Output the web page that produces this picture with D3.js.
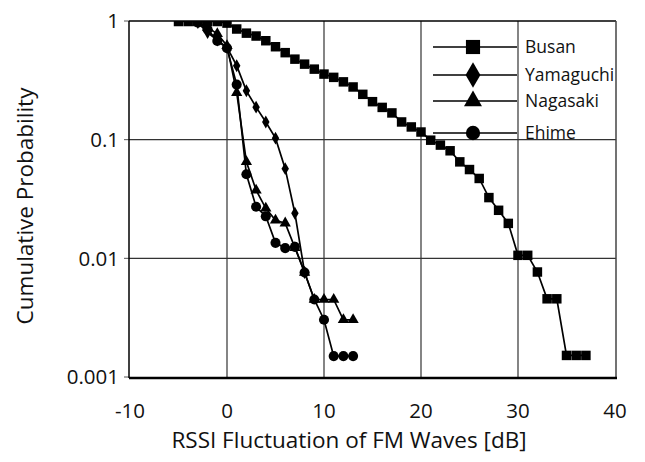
<!DOCTYPE html>
<html lang="en">
<head>
  <meta charset="UTF-8">
  <title>RSSI Fluctuation CDF</title>
  <script src="https://d3js.org/d3.v7.min.js"></script>
  <style>
    html, body { margin: 0; padding: 0; background: #fff; overflow: hidden; }
    svg { font-family: "Open Sans", sans-serif; }
  </style>
</head>
<body>
<div id="chart"></div>
<script>
  // Values
  const busanX = [-5, -4, -3, -2, -1, 0, 1, 2, 3, 4, 5, 6, 7, 8, 9, 10, 11, 12, 13, 14, 15, 16, 17, 18,
    19, 20, 21, 22, 23, 24, 25, 26, 27, 28, 29, 30, 31, 32, 33, 34, 35, 36, 37];
  const busanP = [0.99, 0.99, 0.99, 0.99, 0.99, 0.96, 0.856, 0.79, 0.747, 0.682, 0.607, 0.541, 0.477, 0.433,
    0.393, 0.357, 0.335, 0.307, 0.278, 0.241, 0.209, 0.187, 0.168, 0.141, 0.128, 0.116, 0.099, 0.090,
    0.0806, 0.065, 0.056, 0.0471, 0.0325, 0.0254, 0.0197, 0.0106, 0.0106, 0.00767, 0.00456, 0.00456,
    0.00152, 0.00152, 0.00152];

  const yamaguchiX = [-3, -2, -1, 0, 1, 2, 3, 4, 5, 6, 7, 8];
  const yamaguchiP = [0.97, 0.8, 0.69, 0.6, 0.42, 0.258, 0.188, 0.141, 0.103, 0.057, 0.024, 0.0076];

  const nagasakiX = [-3, -2, -1, 0, 1, 2, 3, 4, 5, 6, 7, 8, 9, 10, 11, 12, 13];
  const nagasakiP = [0.97, 0.88, 0.78, 0.62, 0.249, 0.065, 0.0375, 0.0264, 0.0209, 0.0198, 0.0123, 0.0076,
    0.0045, 0.0045, 0.0045, 0.00303, 0.00303];

  const ehimeX = [-3, -2, -1, 0, 1, 2, 3, 4, 5, 6, 7, 8, 9, 10, 11, 12, 13];
  const ehimeP = [0.97, 0.85, 0.68, 0.59, 0.291, 0.0511, 0.0272, 0.0226, 0.0135, 0.0122, 0.0125, 0.0076,
    0.0045, 0.00304, 0.0015, 0.0015, 0.0015];

  const seriesNames = ["Busan", "Yamaguchi", "Nagasaki", "Ehime"];
  const xTicks = [-10, 0, 10, 20, 30, 40];
  const yTicks = [1, 0.1, 0.01, 0.001];
  const yTickLabels = ["1", "0.1", "0.01", "0.001"];

  const width = 645, height = 462;
  const pLeft = 129, pRight = 616, pTop = 21, pBottom = 377;

  const svg = d3.select("#chart").append("svg")
    .attr("width", width)
    .attr("height", height);

  const x = d3.scaleLinear().domain([-10, 40]).range([130, 615]);
  const y = d3.scaleLog().domain([0.001, 1]).range([pBottom, pTop]);

  const series = [
    { name: seriesNames[0], xs: busanX, ps: busanP, sym: d3.symbolSquare, size: 90, lsize: 200 },
    { name: seriesNames[1], xs: yamaguchiX, ps: yamaguchiP, sym: d3.symbolDiamond, size: 48, lsize: 190 },
    { name: seriesNames[2], xs: nagasakiX, ps: nagasakiP, sym: d3.symbolTriangle, size: 55, lsize: 140 },
    { name: seriesNames[3], xs: ehimeX, ps: ehimeP, sym: d3.symbolCircle, size: 80, lsize: 160 }
  ];

  svg.append("clipPath").attr("id", "plotClip")
    .append("rect")
    .attr("x", pLeft).attr("y", pTop)
    .attr("width", pRight - pLeft).attr("height", pBottom - pTop);

  // grid lines
  const grid = svg.append("g");
  grid.selectAll("line.vx")
    .data(xTicks.slice(1, -1))
    .join("line")
    .attr("x1", d => x(d)).attr("x2", d => x(d))
    .attr("y1", pTop).attr("y2", pBottom)
    .attr("stroke", "#333").attr("stroke-width", 1.2);
  grid.selectAll("line.hy")
    .data(yTicks.slice(1, -1))
    .join("line")
    .attr("x1", pLeft).attr("x2", pRight)
    .attr("y1", d => y(d)).attr("y2", d => y(d))
    .attr("stroke", "#333").attr("stroke-width", 1.2);

  // y tick marks (outside, left)
  svg.append("g").selectAll("line")
    .data(yTicks)
    .join("line")
    .attr("x1", pLeft - 5).attr("x2", pLeft)
    .attr("y1", d => y(d)).attr("y2", d => y(d))
    .attr("stroke", "#555").attr("stroke-width", 1);

  // frame
  svg.append("line").attr("x1", pLeft).attr("x2", pRight).attr("y1", pTop).attr("y2", pTop)
    .attr("stroke", "#000").attr("stroke-width", 1.5);
  svg.append("line").attr("x1", pRight).attr("x2", pRight).attr("y1", pTop).attr("y2", pBottom + 1)
    .attr("stroke", "#444").attr("stroke-width", 1.5);
  svg.append("line").attr("x1", pLeft).attr("x2", pLeft).attr("y1", pTop).attr("y2", pBottom + 1)
    .attr("stroke", "#000").attr("stroke-width", 1.5);
  svg.append("line").attr("x1", pLeft).attr("x2", pRight + 1).attr("y1", pBottom + 1).attr("y2", pBottom + 1)
    .attr("stroke", "#000").attr("stroke-width", 2.5);

  // data
  const plot = svg.append("g").attr("clip-path", "url(#plotClip)");
  const lineGen = d3.line().x(d => x(d[0])).y(d => y(d[1]));

  series.forEach(s => {
    const pts = s.xs.map((v, i) => [v, s.ps[i]]);
    plot.append("path")
      .attr("d", lineGen(pts))
      .attr("fill", "none")
      .attr("stroke", "#000")
      .attr("stroke-width", 1.7);
    plot.selectAll(null)
      .data(pts)
      .join("path")
      .attr("d", d3.symbol().type(s.sym).size(s.size))
      .attr("transform", d => `translate(${x(d[0])},${y(d[1])})`)
      .attr("fill", "#000");
  });

  // legend
  const legRows = [47, 75, 101, 133];
  const legend = svg.append("g");
  series.forEach((s, i) => {
    const g = legend.append("g").attr("transform", `translate(0,${legRows[i]})`);
    g.append("line").attr("x1", 433).attr("x2", 517).attr("y1", 0).attr("y2", 0)
      .attr("stroke", "#000").attr("stroke-width", 1.7);
    g.append("path").attr("d", d3.symbol().type(s.sym).size(s.lsize)())
      .attr("transform", "translate(473,0)").attr("fill", "#000");
    g.append("text").attr("x", 525).attr("y", 0).attr("dy", "0.35em")
      .attr("font-size", 17.5).attr("fill", "#111").text(s.name);
  });

  // tick labels
  svg.append("g").selectAll("text")
    .data(xTicks)
    .join("text")
    .attr("x", d => x(d)).attr("y", 418)
    .attr("text-anchor", "middle")
    .attr("font-size", 20.5).attr("fill", "#111")
    .text(d => d);
  svg.append("g").selectAll("text")
    .data(yTicks)
    .join("text")
    .attr("x", 119).attr("y", d => y(d)).attr("dy", "0.36em")
    .attr("text-anchor", "end")
    .attr("font-size", 20.5).attr("fill", "#111")
    .text((d, i) => yTickLabels[i]);

  // axis titles
  svg.append("text").attr("x", 349).attr("y", 448)
    .attr("text-anchor", "middle").attr("font-size", 22.5).attr("fill", "#111")
    .text("RSSI Fluctuation of FM Waves [dB]");
  svg.append("text")
    .attr("transform", "translate(33,206) rotate(-90)")
    .attr("text-anchor", "middle").attr("font-size", 22.5).attr("fill", "#111")
    .text("Cumulative Probability");
</script>
</body>
</html>
